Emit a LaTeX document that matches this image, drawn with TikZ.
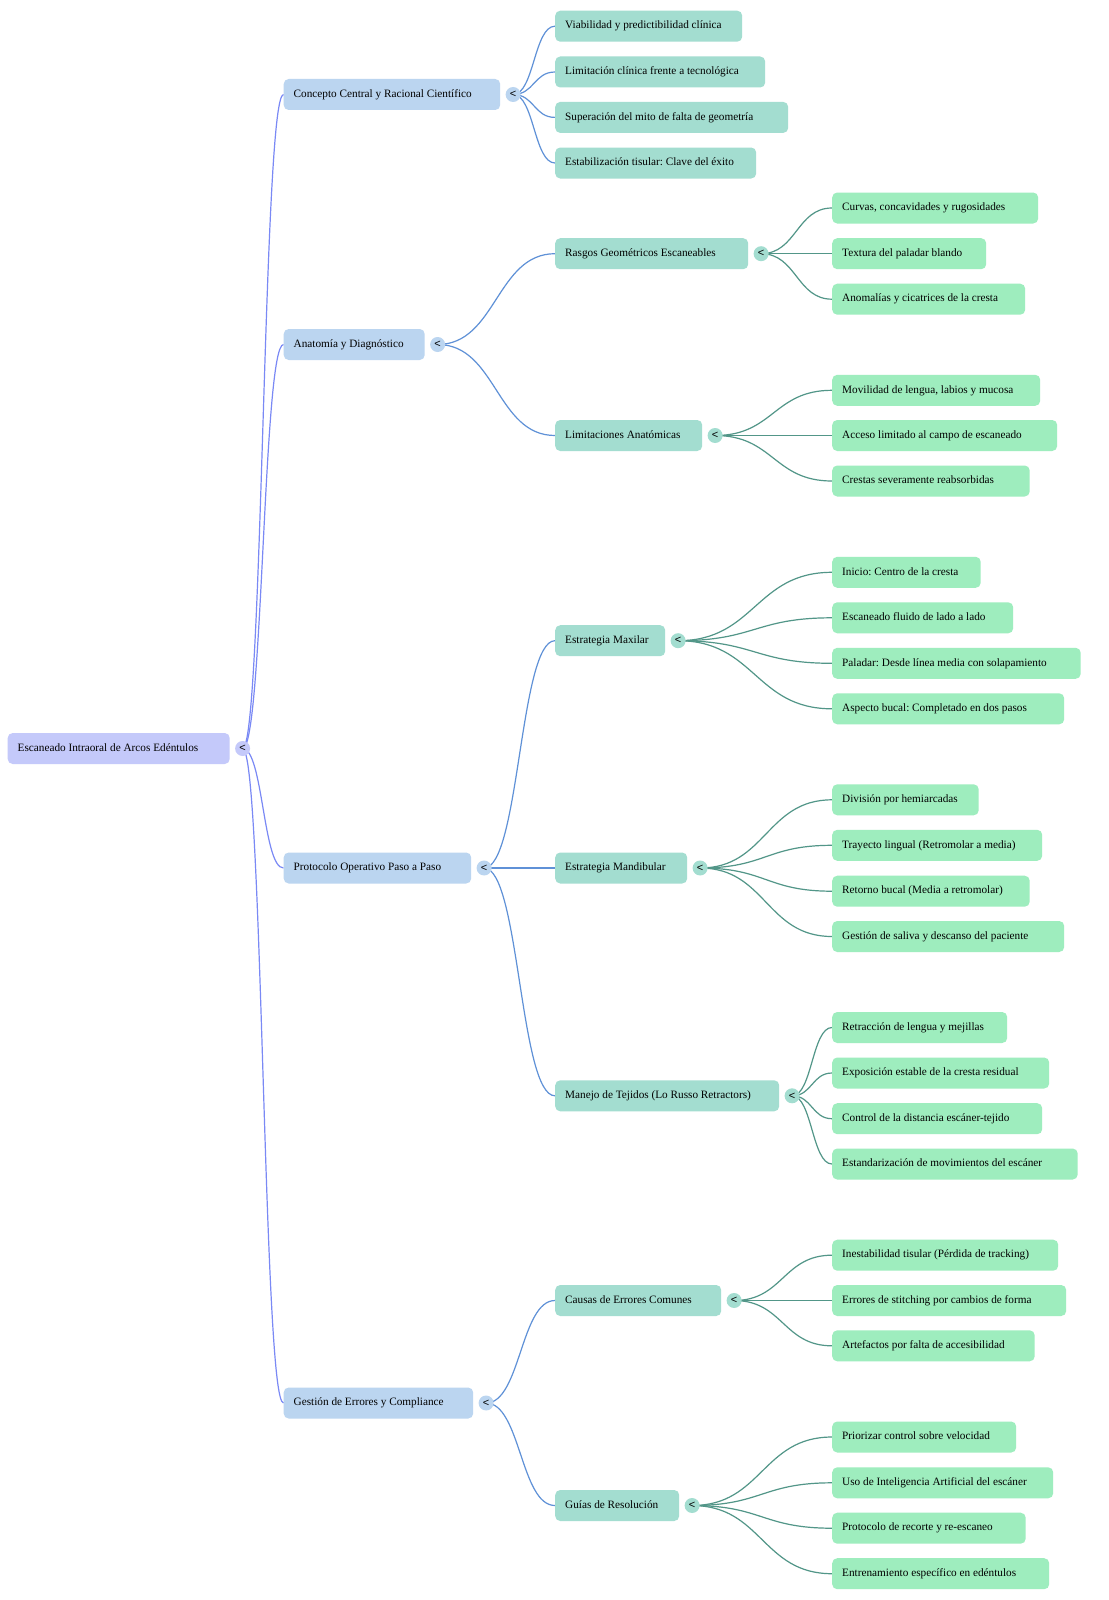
\documentclass[tikz,border=0pt]{standalone}
\usepackage{fontspec}
\setmainfont{Liberation Serif}
\newfontfamily\knobfont{Liberation Sans}
\usetikzlibrary{calc,positioning}
\pgfdeclarelayer{bg}
\pgfsetlayers{bg,main}
\frenchspacing
\definecolor{rootfill}{RGB}{196,201,250}
\definecolor{lonefill}{RGB}{187,213,240}
\definecolor{ltwofill}{RGB}{163,221,208}
\definecolor{lthreefill}{RGB}{158,237,190}
\definecolor{edgezero}{RGB}{122,137,245}
\definecolor{edgeone}{RGB}{95,145,215}
\definecolor{edgetwo}{RGB}{82,150,136}
\newcommand\mmb[2]{\makebox[#1pt][l]{\strut #2}}
\tikzset{
  box/.style={rounded corners=5pt, inner xsep=10pt, inner ysep=0pt, minimum height=31pt,
    anchor=west, text=black, font=\fontsize{11.25}{13.5}\selectfont\frenchspacing},
  rootbox/.style={box, fill=rootfill},
  lonebox/.style={box, fill=lonefill},
  ltwobox/.style={box, fill=ltwofill},
  lthreebox/.style={box, fill=lthreefill},
  knob/.style={circle, inner sep=0pt, minimum size=15pt, text=black,
    font=\knobfont\fontsize{11}{11}\selectfont},
  rknob/.style={knob, fill=rootfill},
  oneknob/.style={knob, fill=lonefill},
  twoknob/.style={knob, fill=ltwofill},
  curvy/.style={to path={let \p1=(\tikztostart), \p2=(\tikztotarget),
      \p3=($(\tikztostart)!0.5!(\tikztotarget)$) in
      .. controls (\x3,\y1) and (\x3,\y2) .. (\tikztotarget)}},
  ezero/.style={draw=edgezero, line width=1.2pt, curvy},
  eone/.style={draw=edgeone, line width=1.2pt, curvy},
  etwo/.style={draw=edgetwo, line width=1.2pt, curvy},
}
\begin{document}
\begin{tikzpicture}[x=1pt,y=-1pt]
\useasboundingbox (0,0) rectangle (1108,1600);
% root
\node[rootbox] (r) at (7.5,748.5) {\mmb{202}{Escaneado Intraoral de Arcos Edéntulos}};
\node[rknob, right=5pt of r] (rk) {<};
% level 1
\node[lonebox] (a) at (283.5,94.5) {\mmb{196.5}{Concepto Central y Racional Científico}};
\node[oneknob, right=5pt of a] (ak) {<};
\node[lonebox] (b) at (283.5,344.5) {\mmb{121}{Anatomía y Diagnóstico}};
\node[oneknob, right=5pt of b] (bk) {<};
\node[lonebox] (c) at (283.5,868) {\mmb{167.5}{Protocolo Operativo Paso a Paso}};
\node[oneknob, right=5pt of c] (ck) {<};
\node[lonebox] (d) at (283.5,1403) {\mmb{169.5}{Gestión de Errores y Compliance}};
\node[oneknob, right=5pt of d] (dk) {<};
% level 2
\node[ltwobox] (a1) at (555,26.2) {\mmb{167}{Viabilidad y predictibilidad clínica}};
\node[ltwobox] (a2) at (555,72) {\mmb{190}{Limitación clínica frente a tecnológica}};
\node[ltwobox] (a3) at (555,117.4) {\mmb{213}{Superación del mito de falta de geometría}};
\node[ltwobox] (a4) at (555,163) {\mmb{181}{Estabilización tisular: Clave del éxito}};
\node[ltwobox] (b1) at (555,253.7) {\mmb{173}{Rasgos Geométricos Escaneables}};
\node[twoknob, right=5pt of b1] (b1k) {<};
\node[ltwobox] (b2) at (555,435.5) {\mmb{127}{Limitaciones Anatómicas}};
\node[twoknob, right=5pt of b2] (b2k) {<};
\node[ltwobox] (c1) at (555,640.7) {\mmb{90}{Estrategia Maxilar}};
\node[twoknob, right=5pt of c1] (c1k) {<};
\node[ltwobox] (c2) at (555,868) {\mmb{112}{Estrategia Mandibular}};
\node[twoknob, right=5pt of c2] (c2k) {<};
\node[ltwobox] (c3) at (555,1095.8) {\mmb{204}{Manejo de Tejidos (Lo Russo Retractors)}};
\node[twoknob, right=5pt of c3] (c3k) {<};
\node[ltwobox] (d1) at (555,1300.5) {\mmb{146}{Causas de Errores Comunes}};
\node[twoknob, right=5pt of d1] (d1k) {<};
\node[ltwobox] (d2) at (555,1505.5) {\mmb{104}{Guías de Resolución}};
\node[twoknob, right=5pt of d2] (d2k) {<};
% level 3
\node[lthreebox] (b11) at (832,208) {\mmb{186}{Curvas, concavidades y rugosidades}};
\node[lthreebox] (b12) at (832,253.7) {\mmb{134}{Textura del paladar blando}};
\node[lthreebox] (b13) at (832,299.2) {\mmb{173}{Anomalías y cicatrices de la cresta}};
\node[lthreebox] (b21) at (832,390.3) {\mmb{188}{Movilidad de lengua, labios y mucosa}};
\node[lthreebox] (b22) at (832,435.5) {\mmb{205}{Acceso limitado al campo de escaneado}};
\node[lthreebox] (b23) at (832,481) {\mmb{177.5}{Crestas severamente reabsorbidas}};
\node[lthreebox] (c11) at (832,572.3) {\mmb{128.5}{Inicio: Centro de la cresta}};
\node[lthreebox] (c12) at (832,617.8) {\mmb{161}{Escaneado fluido de lado a lado}};
\node[lthreebox] (c13) at (832,663.3) {\mmb{228.5}{Paladar: Desde línea media con solapamiento}};
\node[lthreebox] (c14) at (832,708.8) {\mmb{212}{Aspecto bucal: Completado en dos pasos}};
\node[lthreebox] (c21) at (832,799.8) {\mmb{126.5}{División por hemiarcadas}};
\node[lthreebox] (c22) at (832,845.3) {\mmb{190}{Trayecto lingual (Retromolar a media)}};
\node[lthreebox] (c23) at (832,891.2) {\mmb{177.5}{Retorno bucal (Media a retromolar)}};
\node[lthreebox] (c24) at (832,936.5) {\mmb{212}{Gestión de saliva y descanso del paciente}};
\node[lthreebox] (c31) at (832,1027.5) {\mmb{155}{Retracción de lengua y mejillas}};
\node[lthreebox] (c32) at (832,1073) {\mmb{197}{Exposición estable de la cresta residual}};
\node[lthreebox] (c33) at (832,1118.7) {\mmb{190}{Control de la distancia escáner-tejido}};
\node[lthreebox] (c34) at (832,1164) {\mmb{225.5}{Estandarización de movimientos del escáner}};
\node[lthreebox] (d11) at (832,1255.2) {\mmb{206}{Inestabilidad tisular (Pérdida de tracking)}};
\node[lthreebox] (d12) at (832,1300.5) {\mmb{214}{Errores de stitching por cambios de forma}};
\node[lthreebox] (d13) at (832,1345.8) {\mmb{182.5}{Artefactos por falta de accesibilidad}};
\node[lthreebox] (d21) at (832,1437) {\mmb{164}{Priorizar control sobre velocidad}};
\node[lthreebox] (d22) at (832,1482.8) {\mmb{201}{Uso de Inteligencia Artificial del escáner}};
\node[lthreebox] (d23) at (832,1528.2) {\mmb{173.5}{Protocolo de recorte y re-escaneo}};
\node[lthreebox] (d24) at (832,1573.7) {\mmb{197}{Entrenamiento específico en edéntulos}};
% edges
\begin{pgfonlayer}{bg}
\fill[white] (0,0) rectangle (1108,1600);
\foreach \t in {a,b,c,d} \draw[ezero] (rk.center) to (\t.west);
\foreach \t in {a1,a2,a3,a4} \draw[eone] (ak.center) to (\t.west);
\foreach \t in {b1,b2} \draw[eone] (bk.center) to (\t.west);
\foreach \t in {c1,c2,c3} \draw[eone] (ck.center) to (\t.west);
\foreach \t in {d1,d2} \draw[eone] (dk.center) to (\t.west);
\foreach \t in {b11,b12,b13} \draw[etwo] (b1k.center) to (\t.west);
\foreach \t in {b21,b22,b23} \draw[etwo] (b2k.center) to (\t.west);
\foreach \t in {c11,c12,c13,c14} \draw[etwo] (c1k.center) to (\t.west);
\foreach \t in {c21,c22,c23,c24} \draw[etwo] (c2k.center) to (\t.west);
\foreach \t in {c31,c32,c33,c34} \draw[etwo] (c3k.center) to (\t.west);
\foreach \t in {d11,d12,d13} \draw[etwo] (d1k.center) to (\t.west);
\foreach \t in {d21,d22,d23,d24} \draw[etwo] (d2k.center) to (\t.west);
\end{pgfonlayer}
\end{tikzpicture}
\end{document}
